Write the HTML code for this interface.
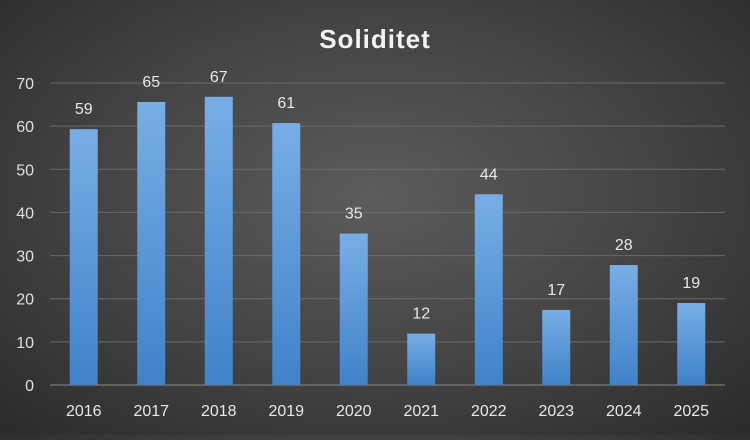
<!DOCTYPE html>
<html><head><meta charset="utf-8"><style>
html,body{margin:0;padding:0;}
body{width:750px;height:435px;overflow:hidden;background:radial-gradient(ellipse 70% 75% at 50% 45%,#5c5c5c 0%,#454545 50%,#2c2c2c 100%);font-family:"Liberation Sans",sans-serif;}
</style></head><body>
<svg id="chart" width="750" height="435" xmlns="http://www.w3.org/2000/svg">
<defs><linearGradient id="bg" x1="0" y1="0" x2="0" y2="1"><stop offset="0" stop-color="#78aee6"/><stop offset="1" stop-color="#3f82c9"/></linearGradient></defs>
<text x="375" y="48" text-anchor="middle" fill="#f2f2f2" font-size="26" font-weight="bold" letter-spacing="1">Soliditet</text>
<g id="grid"></g><g id="bars"></g><g id="labels"></g>
</svg>
<script>
const categories=["2016","2017","2018","2019","2020","2021","2022","2023","2024","2025"];
const values=[59.3,65.6,66.8,60.7,35.1,11.9,44.2,17.4,27.8,19.0];
const valueLabels=["59","65","67","61","35","12","44","17","28","19"];
const yTicks=[0,10,20,30,40,50,60,70];
const NS="http://www.w3.org/2000/svg";
const x0=50,x1=725,y0=385,y70=83;
const yScale=v=>y0-(v/70)*(y0-y70);
const band=(x1-x0)/categories.length;
const xScale=i=>x0+band*(i+0.5);
function mk(tag,attrs,parent,text){const e=document.createElementNS(NS,tag);for(const k in attrs)e.setAttribute(k,attrs[k]);if(text!==undefined)e.textContent=text;document.getElementById(parent).appendChild(e);return e;}
yTicks.forEach(t=>{
 const l=mk('line',{x1:x0,x2:x1,y1:yScale(t),y2:yScale(t),stroke:t===0?'#8a8a8a':'#6a6a6a','stroke-width':1},'grid');
 
 
 const tx=mk('text',{x:34,y:yScale(t)+6,'text-anchor':'end',fill:'#e0e0e0','font-size':16},'grid',String(t));
 
 
});
const bw=28;
categories.forEach((c,i)=>{
 const cx=xScale(i),top=yScale(values[i]);
 const r=mk('rect',{x:cx-bw/2,y:top,width:bw,height:y0-top,fill:'url(#bg)'},'bars');
 
 
 const v=mk('text',{x:cx,y:top-15,'text-anchor':'middle',fill:'#e8e8e8','font-size':16},'labels',valueLabels[i]);
 
 
 const xl=mk('text',{x:cx,y:416,'text-anchor':'middle',fill:'#e8e8e8','font-size':16},'labels',c);
 
 
});
</script>
</body></html>
